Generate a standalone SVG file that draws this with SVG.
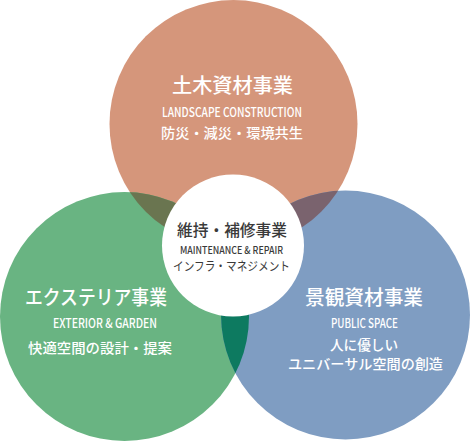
<svg xmlns="http://www.w3.org/2000/svg" width="470" height="441" viewBox="0 0 470 441">
<defs>
<style>
.w{fill:#ffffff;font-family:"Noto Sans CJK JP","Noto Sans",sans-serif;text-anchor:middle}
.d{fill:#3a3a3a;font-family:"Noto Sans CJK JP","Noto Sans",sans-serif;text-anchor:middle}
.t{font-size:20px;font-weight:500}
.e{font-size:12.5px;font-weight:500}
.s{font-size:14px;font-weight:500}
</style>
<clipPath id="cTop"><circle cx="233.5" cy="124" r="124"/></clipPath>
<clipPath id="cLeft"><circle cx="124.5" cy="316.5" r="124.5"/></clipPath>
<clipPath id="cRight"><circle cx="345.5" cy="315" r="124.5"/></clipPath>
</defs>
<rect width="470" height="441" fill="#ffffff"/>
<g id="circles">
<circle cx="233.5" cy="124" r="124" fill="#d5967b"/>
<circle cx="124.5" cy="316.5" r="124.5" fill="#69b482"/>
<circle cx="345.5" cy="315" r="124.5" fill="#7f9dc2"/>
</g>
<g id="overlaps">
<circle cx="124.5" cy="316.5" r="124.5" fill="#6a7550" clip-path="url(#cTop)"/>
<circle cx="345.5" cy="315" r="124.5" fill="#7a636e" clip-path="url(#cTop)"/>
<circle cx="345.5" cy="315" r="124.5" fill="#0d7a60" clip-path="url(#cLeft)"/>
</g>
<g id="node-top">
<text class="w t" x="232.5" y="92.5" textLength="121" lengthAdjust="spacingAndGlyphs">土木資材事業</text>
<text class="w e" x="232" y="116.5" textLength="140" lengthAdjust="spacingAndGlyphs">LANDSCAPE CONSTRUCTION</text>
<text class="w s" x="232" y="137.5" textLength="142" lengthAdjust="spacingAndGlyphs">防災・減災・環境共生</text>
</g>
<g id="node-left">
<text class="w t" x="96" y="305" textLength="142" lengthAdjust="spacingAndGlyphs">エクステリア事業</text>
<text class="w e" x="105" y="327.5" textLength="104" lengthAdjust="spacingAndGlyphs">EXTERIOR &amp; GARDEN</text>
<text class="w s" x="100" y="353" textLength="144" lengthAdjust="spacingAndGlyphs">快適空間の設計・提案</text>
</g>
<g id="node-right">
<text class="w t" x="364" y="305" textLength="118" lengthAdjust="spacingAndGlyphs">景観資材事業</text>
<text class="w e" x="364.5" y="327.5" textLength="67" lengthAdjust="spacingAndGlyphs">PUBLIC SPACE</text>
<text class="w s" x="364" y="350" textLength="68" lengthAdjust="spacingAndGlyphs">人に優しい</text>
<text class="w s" x="365.5" y="368.5" textLength="155" lengthAdjust="spacingAndGlyphs">ユニバーサル空間の創造</text>
</g>
<g id="node-center">
<circle cx="233" cy="245.5" r="71" fill="#ffffff"/>
<text class="d" x="232" y="236" font-size="16" font-weight="500" textLength="110" lengthAdjust="spacingAndGlyphs">維持・補修事業</text>
<text class="d" x="231.5" y="254" font-size="10" font-weight="500" textLength="103" lengthAdjust="spacingAndGlyphs">MAINTENANCE &amp; REPAIR</text>
<text class="d" x="231.5" y="271" font-size="12" textLength="117" lengthAdjust="spacingAndGlyphs">インフラ・マネジメント</text>
</g>
</svg>
